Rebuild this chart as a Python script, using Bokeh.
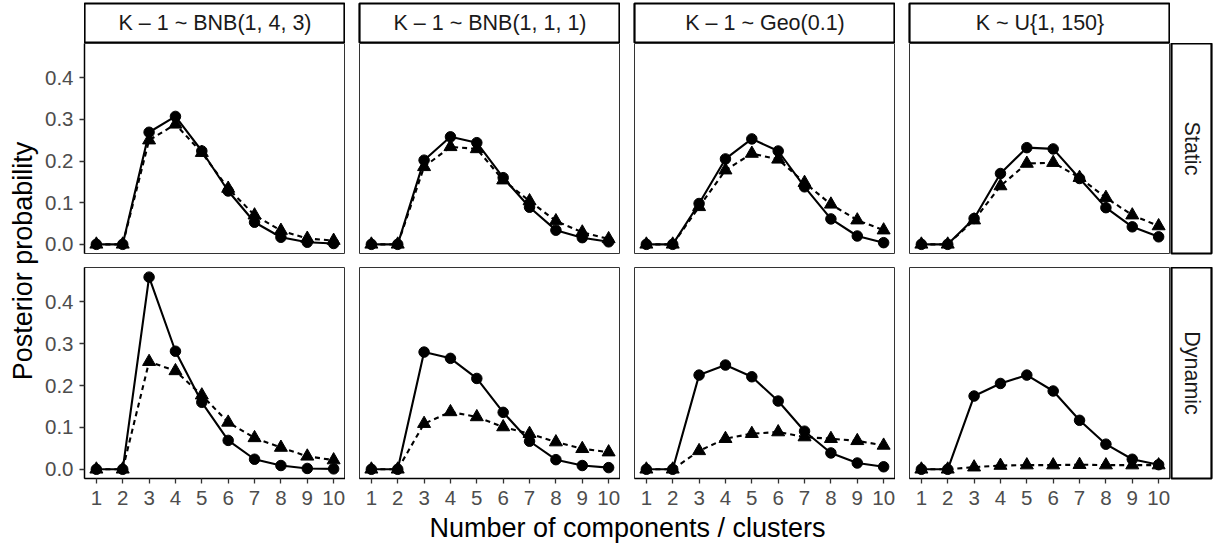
from math import pi

from bokeh.core.properties import value
from bokeh.embed import file_html
from bokeh.layouts import column, row
from bokeh.models import FixedTicker, PrintfTickFormatter, Range1d, Spacer
from bokeh.plotting import figure
from bokeh.resources import INLINE

# ---- data -----------------------------------------------------------------
ks = list(range(1, 11))
prior_labels = ["K \u2013 1 ~ BNB(1, 4, 3)", "K \u2013 1 ~ BNB(1, 1, 1)",
                "K \u2013 1 ~ Geo(0.1)", "K ~ U{1, 150}"]
setting_labels = ["Static", "Dynamic"]
y_ticks = [0.0, 0.1, 0.2, 0.3, 0.4]

# posterior of the number of components K (circles, solid line)
static_components = [
    [0, 0, 0.269, 0.307, 0.224, 0.128, 0.053, 0.017, 0.005, 0.002],
    [0, 0, 0.202, 0.258, 0.244, 0.160, 0.089, 0.034, 0.016, 0.006],
    [0, 0, 0.098, 0.205, 0.253, 0.224, 0.138, 0.061, 0.020, 0.004],
    [0, 0, 0.062, 0.170, 0.232, 0.229, 0.158, 0.088, 0.042, 0.018],
]
dynamic_components = [
    [0, 0, 0.459, 0.282, 0.160, 0.069, 0.024, 0.009, 0.002, 0.001],
    [0, 0, 0.280, 0.265, 0.217, 0.136, 0.067, 0.023, 0.009, 0.004],
    [0, 0, 0.225, 0.249, 0.221, 0.163, 0.091, 0.039, 0.015, 0.006],
    [0, 0, 0.175, 0.205, 0.225, 0.187, 0.117, 0.060, 0.024, 0.011],
]
# posterior of the number of filled clusters K+ (triangles, dashed line)
static_clusters = [
    [0, 0, 0.250, 0.288, 0.220, 0.134, 0.070, 0.033, 0.014, 0.009],
    [0, 0, 0.186, 0.234, 0.229, 0.154, 0.104, 0.056, 0.029, 0.013],
    [0, 0, 0.090, 0.178, 0.218, 0.204, 0.148, 0.096, 0.058, 0.034],
    [0, 0, 0.058, 0.140, 0.194, 0.196, 0.160, 0.112, 0.070, 0.044],
]
dynamic_clusters = [
    [0, 0, 0.257, 0.235, 0.177, 0.112, 0.075, 0.052, 0.031, 0.022],
    [0, 0, 0.109, 0.137, 0.125, 0.101, 0.085, 0.065, 0.049, 0.041],
    [0, 0, 0.044, 0.073, 0.085, 0.089, 0.077, 0.073, 0.068, 0.057],
    [0, 0, 0.005, 0.009, 0.010, 0.010, 0.011, 0.010, 0.010, 0.010],
]

components = [static_components, dynamic_components]
clusters = [static_clusters, dynamic_clusters]

# ---- styling --------------------------------------------------------------
FONT = value("Liberation Sans")
FONT_NAME = "Liberation Sans"
PANEL_W = 261
GAP = 14
LEFT_AXIS = 44
YTITLE_W = 40
STRIP_W = 40
TOP_STRIP_H = 43
ROW_H = [210, 211]
ROW_BOTTOM = [14, 36]
TICK_FONT = "20.5px"


def make_panel(r, c):
    left = LEFT_AXIS if c == 0 else GAP
    show_y = c == 0
    show_x = r == 1
    p = figure(
        width=left + PANEL_W,
        height=ROW_H[r] + ROW_BOTTOM[r],
        x_range=Range1d(0.55, 10.45),
        y_range=Range1d(-0.022, 0.482),
        x_axis_location="below" if show_x else None,
        y_axis_location="left" if show_y else None,
        min_border_left=left, min_border_right=0,
        min_border_top=0, min_border_bottom=ROW_BOTTOM[r],
        toolbar_location=None, output_backend="svg",
        background_fill_color="white", border_fill_color="white",
        outline_line_color="#333333", outline_line_width=1,
    )
    p.grid.visible = False
    for ax in p.axis:
        ax.major_tick_in = 0
        ax.major_tick_out = 5
        ax.minor_tick_line_color = None
        ax.major_tick_line_color = "#333333"
        ax.major_tick_line_width = 1.3
        ax.axis_line_color = "black"
        ax.axis_line_width = 1.5
        ax.major_label_text_font = FONT_NAME
        ax.major_label_text_font_size = TICK_FONT
        ax.major_label_text_color = "#4D4D4D"
    if show_y:
        p.yaxis.ticker = FixedTicker(ticks=y_ticks)
        p.yaxis.formatter = PrintfTickFormatter(format="%.1f")
        p.yaxis.major_label_standoff = 6
    if show_x:
        p.xaxis.ticker = FixedTicker(ticks=ks)
        p.xaxis.major_label_standoff = 7

    comp = components[r][c]
    clus = clusters[r][c]
    p.line(ks, clus, line_color="black", line_width=2.1, line_dash="5 4")
    p.scatter(ks, clus, marker="triangle", size=13, fill_color="black",
              line_color="black")
    p.line(ks, comp, line_color="black", line_width=2.1)
    p.scatter(ks, comp, marker="circle", size=10.5, fill_color="black",
              line_color="black")
    return p


def strip(text, width, height, left, right, top, bottom, angle=0.0):
    s = figure(
        width=width, height=height,
        x_range=Range1d(0, 1), y_range=Range1d(0, 1),
        x_axis_location=None, y_axis_location=None,
        min_border_left=left, min_border_right=right,
        min_border_top=top, min_border_bottom=bottom,
        toolbar_location=None, output_backend="svg",
        background_fill_color="white", border_fill_color="white",
        outline_line_color="black", outline_line_width=2.2,
    )
    s.grid.visible = False
    s.text(x=[0.5], y=[0.5], text=[text], angle=angle,
           text_align="center", text_baseline="middle",
           text_font=FONT, text_font_size="21.5px", text_color="#1A1A1A")
    return s


def title_fig(text, width, height, angle=0.0, x=0.5, y=0.5):
    t = figure(
        width=width, height=height,
        x_range=Range1d(0, 1), y_range=Range1d(0, 1),
        x_axis_location=None, y_axis_location=None,
        min_border_left=0, min_border_right=0,
        min_border_top=0, min_border_bottom=0,
        toolbar_location=None, output_backend="svg",
        background_fill_color="white", border_fill_color="white",
        outline_line_color=None,
    )
    t.grid.visible = False
    t.text(x=[x], y=[y], text=[text], angle=angle,
           text_align="center", text_baseline="middle",
           text_font=FONT, text_font_size="27px", text_color="black")
    return t


# column strips along the top
top_items = [Spacer(width=LEFT_AXIS, height=TOP_STRIP_H)]
for c, lab in enumerate(prior_labels):
    left = 0 if c == 0 else GAP
    top_items.append(strip(lab, left + PANEL_W, TOP_STRIP_H, left, 0, 3, 1))
top_items.append(Spacer(width=1 + STRIP_W + 3, height=TOP_STRIP_H))

panel_rows = []
for r in range(2):
    items = [make_panel(r, c) for c in range(4)]
    items.append(strip(setting_labels[r], 1 + STRIP_W + 3,
                       ROW_H[r] + ROW_BOTTOM[r], 1, 3, 0, ROW_BOTTOM[r],
                       angle=-pi / 2))
    panel_rows.append(row(*items))

xtitle_w = 4 * PANEL_W + 3 * GAP
bottom_h = 548 - TOP_STRIP_H - sum(ROW_H) - sum(ROW_BOTTOM)
x_title_row = row(
    Spacer(width=LEFT_AXIS, height=bottom_h),
    title_fig("Number of components / clusters", xtitle_w, bottom_h, y=0.6),
    Spacer(width=1 + STRIP_W + 3, height=bottom_h),
)

main = column(row(*top_items), panel_rows[0], panel_rows[1], x_title_row)

ytitle_h = ROW_H[0] + ROW_BOTTOM[0] + ROW_H[1]
y_title_col = column(
    Spacer(width=YTITLE_W, height=TOP_STRIP_H),
    title_fig("Posterior probability", YTITLE_W, ytitle_h, angle=pi / 2,
              x=0.55),
    Spacer(width=YTITLE_W, height=548 - TOP_STRIP_H - ytitle_h),
)

layout = row(y_title_col, main)

open("out.html", "w").write(file_html(layout, INLINE))
